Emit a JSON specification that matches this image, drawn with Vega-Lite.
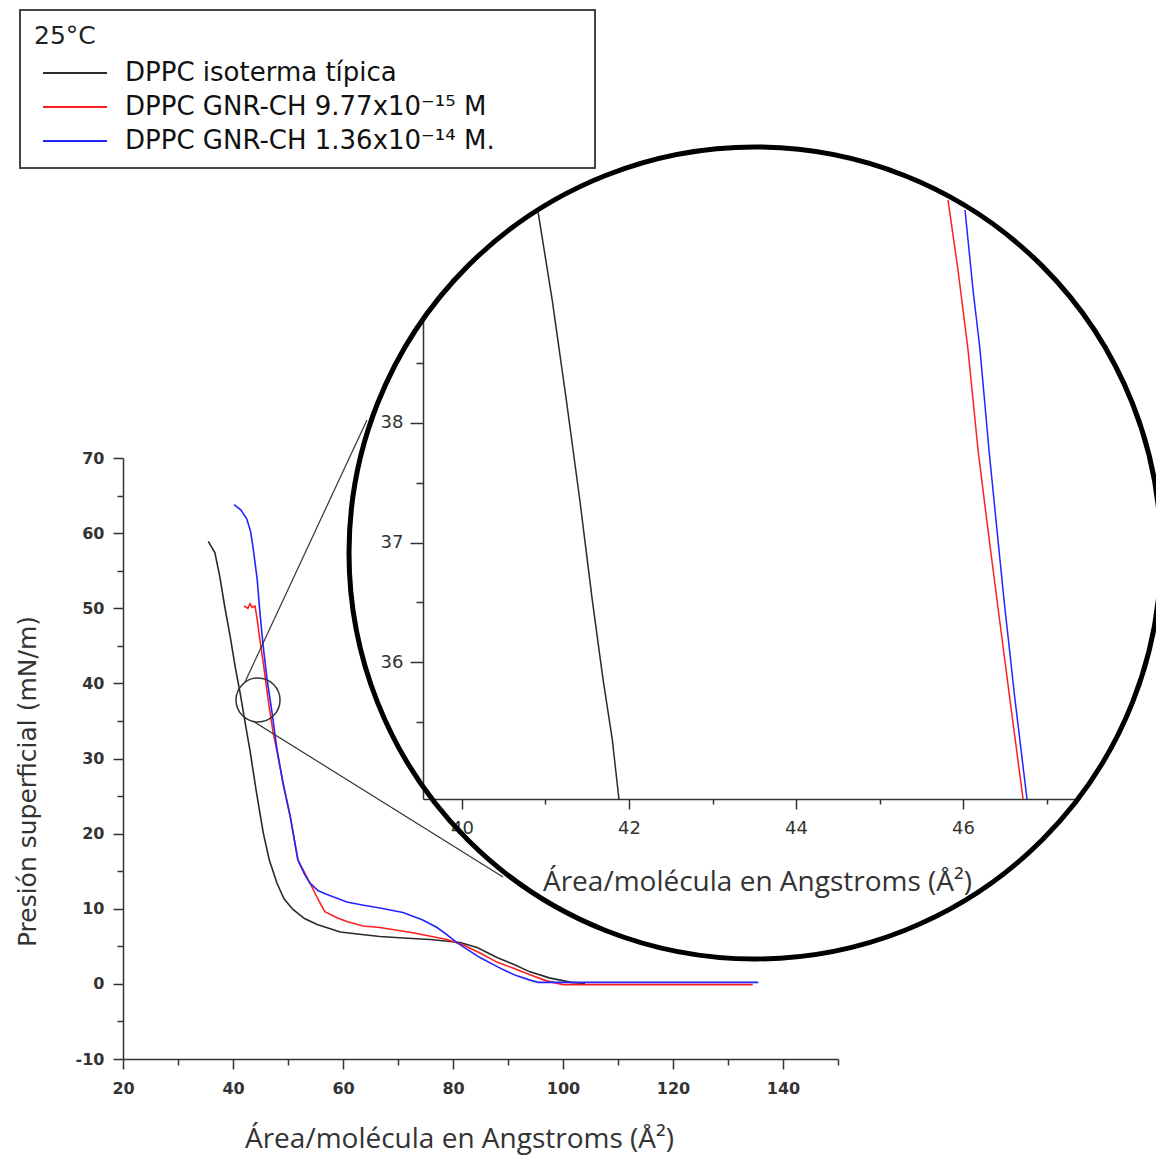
{
  "$schema": "https://vega.github.io/schema/vega-lite/v6.json",
  "autosize": "none",
  "width": 715,
  "height": 601,
  "padding": {"left": 123, "top": 458, "right": 318, "bottom": 97},
  "background": "white",
  "config": {
    "view": {"stroke": null},
    "axis": {"grid": false, "domainColor": "#333", "tickColor": "#333", "domainWidth": 1.5, "tickWidth": 1.5, "labelColor": "#333", "labelFlush": false, "labelOverlap": false}
  },
  "datasets": {
    "main": [
      {"serie": "DPPC isoterma típica", "area": 35.5, "presion": 58.9},
      {"serie": "DPPC isoterma típica", "area": 36.7, "presion": 57.4},
      {"serie": "DPPC isoterma típica", "area": 37.6, "presion": 54.2},
      {"serie": "DPPC isoterma típica", "area": 38.5, "presion": 50.2},
      {"serie": "DPPC isoterma típica", "area": 39.5, "presion": 46.2},
      {"serie": "DPPC isoterma típica", "area": 40.4, "presion": 42.2},
      {"serie": "DPPC isoterma típica", "area": 41.3, "presion": 38.7},
      {"serie": "DPPC isoterma típica", "area": 42.2, "presion": 34.8},
      {"serie": "DPPC isoterma típica", "area": 43.1, "presion": 31.0},
      {"serie": "DPPC isoterma típica", "area": 44.2, "presion": 25.8},
      {"serie": "DPPC isoterma típica", "area": 45.5, "presion": 20.1},
      {"serie": "DPPC isoterma típica", "area": 46.6, "presion": 16.5},
      {"serie": "DPPC isoterma típica", "area": 48.0, "presion": 13.4},
      {"serie": "DPPC isoterma típica", "area": 49.3, "presion": 11.3},
      {"serie": "DPPC isoterma típica", "area": 50.9, "presion": 9.9},
      {"serie": "DPPC isoterma típica", "area": 53.0, "presion": 8.7},
      {"serie": "DPPC isoterma típica", "area": 55.3, "presion": 7.9},
      {"serie": "DPPC isoterma típica", "area": 59.5, "presion": 6.9},
      {"serie": "DPPC isoterma típica", "area": 63.0, "presion": 6.6},
      {"serie": "DPPC isoterma típica", "area": 66.7, "presion": 6.3},
      {"serie": "DPPC isoterma típica", "area": 71.0, "presion": 6.1},
      {"serie": "DPPC isoterma típica", "area": 75.8, "presion": 5.9},
      {"serie": "DPPC isoterma típica", "area": 81.3, "presion": 5.5},
      {"serie": "DPPC isoterma típica", "area": 84.5, "presion": 4.8},
      {"serie": "DPPC isoterma típica", "area": 88.0, "presion": 3.5},
      {"serie": "DPPC isoterma típica", "area": 91.0, "presion": 2.6},
      {"serie": "DPPC isoterma típica", "area": 94.0, "presion": 1.6},
      {"serie": "DPPC isoterma típica", "area": 97.5, "presion": 0.8},
      {"serie": "DPPC isoterma típica", "area": 101.5, "presion": 0.2},
      {"serie": "DPPC isoterma típica", "area": 104.0, "presion": 0.05},
      {"serie": "DPPC  GNR-CH 9.77x10⁻¹⁵ M", "area": 42.0, "presion": 50.3},
      {"serie": "DPPC  GNR-CH 9.77x10⁻¹⁵ M", "area": 42.7, "presion": 50.0},
      {"serie": "DPPC  GNR-CH 9.77x10⁻¹⁵ M", "area": 43.1, "presion": 50.6},
      {"serie": "DPPC  GNR-CH 9.77x10⁻¹⁵ M", "area": 43.5, "presion": 50.1},
      {"serie": "DPPC  GNR-CH 9.77x10⁻¹⁵ M", "area": 44.0, "presion": 50.3},
      {"serie": "DPPC  GNR-CH 9.77x10⁻¹⁵ M", "area": 44.4, "presion": 48.5},
      {"serie": "DPPC  GNR-CH 9.77x10⁻¹⁵ M", "area": 44.9, "presion": 45.8},
      {"serie": "DPPC  GNR-CH 9.77x10⁻¹⁵ M", "area": 45.6, "presion": 42.2},
      {"serie": "DPPC  GNR-CH 9.77x10⁻¹⁵ M", "area": 46.4, "presion": 37.8},
      {"serie": "DPPC  GNR-CH 9.77x10⁻¹⁵ M", "area": 47.3, "presion": 33.4},
      {"serie": "DPPC  GNR-CH 9.77x10⁻¹⁵ M", "area": 48.0, "presion": 31.0},
      {"serie": "DPPC  GNR-CH 9.77x10⁻¹⁵ M", "area": 49.1, "presion": 26.7},
      {"serie": "DPPC  GNR-CH 9.77x10⁻¹⁵ M", "area": 50.4, "presion": 22.3},
      {"serie": "DPPC  GNR-CH 9.77x10⁻¹⁵ M", "area": 51.8, "presion": 16.5},
      {"serie": "DPPC  GNR-CH 9.77x10⁻¹⁵ M", "area": 54.0, "presion": 13.4},
      {"serie": "DPPC  GNR-CH 9.77x10⁻¹⁵ M", "area": 55.5, "presion": 11.2},
      {"serie": "DPPC  GNR-CH 9.77x10⁻¹⁵ M", "area": 56.7, "presion": 9.6},
      {"serie": "DPPC  GNR-CH 9.77x10⁻¹⁵ M", "area": 58.9, "presion": 8.8},
      {"serie": "DPPC  GNR-CH 9.77x10⁻¹⁵ M", "area": 60.7, "presion": 8.3},
      {"serie": "DPPC  GNR-CH 9.77x10⁻¹⁵ M", "area": 63.6, "presion": 7.7},
      {"serie": "DPPC  GNR-CH 9.77x10⁻¹⁵ M", "area": 66.7, "presion": 7.5},
      {"serie": "DPPC  GNR-CH 9.77x10⁻¹⁵ M", "area": 72.7, "presion": 6.8},
      {"serie": "DPPC  GNR-CH 9.77x10⁻¹⁵ M", "area": 78.9, "presion": 5.9},
      {"serie": "DPPC  GNR-CH 9.77x10⁻¹⁵ M", "area": 81.8, "presion": 5.2},
      {"serie": "DPPC  GNR-CH 9.77x10⁻¹⁵ M", "area": 84.9, "presion": 4.1},
      {"serie": "DPPC  GNR-CH 9.77x10⁻¹⁵ M", "area": 88.0, "presion": 2.9},
      {"serie": "DPPC  GNR-CH 9.77x10⁻¹⁵ M", "area": 90.9, "presion": 2.1},
      {"serie": "DPPC  GNR-CH 9.77x10⁻¹⁵ M", "area": 94.0, "presion": 1.2},
      {"serie": "DPPC  GNR-CH 9.77x10⁻¹⁵ M", "area": 97.0, "presion": 0.4},
      {"serie": "DPPC  GNR-CH 9.77x10⁻¹⁵ M", "area": 100.0, "presion": -0.1},
      {"serie": "DPPC  GNR-CH 9.77x10⁻¹⁵ M", "area": 134.5, "presion": -0.1},
      {"serie": "DPPC  GNR-CH 1.36x10⁻¹⁴ M.", "area": 40.2, "presion": 63.8},
      {"serie": "DPPC  GNR-CH 1.36x10⁻¹⁴ M.", "area": 41.4, "presion": 63.1},
      {"serie": "DPPC  GNR-CH 1.36x10⁻¹⁴ M.", "area": 42.5, "presion": 61.9},
      {"serie": "DPPC  GNR-CH 1.36x10⁻¹⁴ M.", "area": 43.2, "presion": 60.2},
      {"serie": "DPPC  GNR-CH 1.36x10⁻¹⁴ M.", "area": 43.7, "presion": 57.8},
      {"serie": "DPPC  GNR-CH 1.36x10⁻¹⁴ M.", "area": 44.4, "presion": 53.8},
      {"serie": "DPPC  GNR-CH 1.36x10⁻¹⁴ M.", "area": 44.9, "presion": 49.4},
      {"serie": "DPPC  GNR-CH 1.36x10⁻¹⁴ M.", "area": 45.5, "presion": 44.9},
      {"serie": "DPPC  GNR-CH 1.36x10⁻¹⁴ M.", "area": 46.2, "presion": 40.5},
      {"serie": "DPPC  GNR-CH 1.36x10⁻¹⁴ M.", "area": 47.1, "presion": 36.1},
      {"serie": "DPPC  GNR-CH 1.36x10⁻¹⁴ M.", "area": 48.0, "presion": 31.2},
      {"serie": "DPPC  GNR-CH 1.36x10⁻¹⁴ M.", "area": 49.1, "presion": 26.7},
      {"serie": "DPPC  GNR-CH 1.36x10⁻¹⁴ M.", "area": 50.4, "presion": 22.3},
      {"serie": "DPPC  GNR-CH 1.36x10⁻¹⁴ M.", "area": 51.8, "presion": 16.5},
      {"serie": "DPPC  GNR-CH 1.36x10⁻¹⁴ M.", "area": 53.0, "presion": 14.6},
      {"serie": "DPPC  GNR-CH 1.36x10⁻¹⁴ M.", "area": 54.0, "presion": 13.4},
      {"serie": "DPPC  GNR-CH 1.36x10⁻¹⁴ M.", "area": 55.5, "presion": 12.4},
      {"serie": "DPPC  GNR-CH 1.36x10⁻¹⁴ M.", "area": 57.1, "presion": 11.9},
      {"serie": "DPPC  GNR-CH 1.36x10⁻¹⁴ M.", "area": 60.7, "presion": 10.9},
      {"serie": "DPPC  GNR-CH 1.36x10⁻¹⁴ M.", "area": 63.5, "presion": 10.5},
      {"serie": "DPPC  GNR-CH 1.36x10⁻¹⁴ M.", "area": 66.7, "presion": 10.1},
      {"serie": "DPPC  GNR-CH 1.36x10⁻¹⁴ M.", "area": 70.9, "presion": 9.5},
      {"serie": "DPPC  GNR-CH 1.36x10⁻¹⁴ M.", "area": 74.5, "presion": 8.5},
      {"serie": "DPPC  GNR-CH 1.36x10⁻¹⁴ M.", "area": 77.1, "presion": 7.5},
      {"serie": "DPPC  GNR-CH 1.36x10⁻¹⁴ M.", "area": 79.0, "presion": 6.5},
      {"serie": "DPPC  GNR-CH 1.36x10⁻¹⁴ M.", "area": 80.7, "presion": 5.5},
      {"serie": "DPPC  GNR-CH 1.36x10⁻¹⁴ M.", "area": 82.8, "presion": 4.5},
      {"serie": "DPPC  GNR-CH 1.36x10⁻¹⁴ M.", "area": 84.9, "presion": 3.5},
      {"serie": "DPPC  GNR-CH 1.36x10⁻¹⁴ M.", "area": 87.0, "presion": 2.7},
      {"serie": "DPPC  GNR-CH 1.36x10⁻¹⁴ M.", "area": 89.1, "presion": 1.9},
      {"serie": "DPPC  GNR-CH 1.36x10⁻¹⁴ M.", "area": 91.5, "presion": 1.1},
      {"serie": "DPPC  GNR-CH 1.36x10⁻¹⁴ M.", "area": 94.0, "presion": 0.5},
      {"serie": "DPPC  GNR-CH 1.36x10⁻¹⁴ M.", "area": 95.5, "presion": 0.2},
      {"serie": "DPPC  GNR-CH 1.36x10⁻¹⁴ M.", "area": 135.5, "presion": 0.2}
    ],
    "inset_negro": [
      {"serie": "DPPC isoterma típica", "area": 40.91, "presion": 39.77},
      {"serie": "DPPC isoterma típica", "area": 41.08, "presion": 39.03},
      {"serie": "DPPC isoterma típica", "area": 41.25, "presion": 38.19},
      {"serie": "DPPC isoterma típica", "area": 41.41, "presion": 37.36},
      {"serie": "DPPC isoterma típica", "area": 41.56, "presion": 36.52},
      {"serie": "DPPC isoterma típica", "area": 41.69, "presion": 35.85},
      {"serie": "DPPC isoterma típica", "area": 41.80, "presion": 35.35},
      {"serie": "DPPC isoterma típica", "area": 41.88, "presion": 34.85}
    ],
    "inset_color": [
      {"serie": "DPPC  GNR-CH 9.77x10⁻¹⁵ M", "area": 45.82, "presion": 39.866},
      {"serie": "DPPC  GNR-CH 9.77x10⁻¹⁵ M", "area": 45.94, "presion": 39.28},
      {"serie": "DPPC  GNR-CH 9.77x10⁻¹⁵ M", "area": 46.06, "presion": 38.611},
      {"serie": "DPPC  GNR-CH 9.77x10⁻¹⁵ M", "area": 46.18, "presion": 37.774},
      {"serie": "DPPC  GNR-CH 9.77x10⁻¹⁵ M", "area": 46.299, "presion": 37.105},
      {"serie": "DPPC  GNR-CH 9.77x10⁻¹⁵ M", "area": 46.407, "presion": 36.519},
      {"serie": "DPPC  GNR-CH 9.77x10⁻¹⁵ M", "area": 46.563, "presion": 35.682},
      {"serie": "DPPC  GNR-CH 9.77x10⁻¹⁵ M", "area": 46.719, "presion": 34.854},
      {"serie": "DPPC  GNR-CH 1.36x10⁻¹⁴ M.", "area": 46.024, "presion": 39.782},
      {"serie": "DPPC  GNR-CH 1.36x10⁻¹⁴ M.", "area": 46.12, "presion": 39.113},
      {"serie": "DPPC  GNR-CH 1.36x10⁻¹⁴ M.", "area": 46.204, "presion": 38.611},
      {"serie": "DPPC  GNR-CH 1.36x10⁻¹⁴ M.", "area": 46.311, "presion": 37.774},
      {"serie": "DPPC  GNR-CH 1.36x10⁻¹⁴ M.", "area": 46.407, "presion": 37.105},
      {"serie": "DPPC  GNR-CH 1.36x10⁻¹⁴ M.", "area": 46.491, "presion": 36.519},
      {"serie": "DPPC  GNR-CH 1.36x10⁻¹⁴ M.", "area": 46.623, "presion": 35.682},
      {"serie": "DPPC  GNR-CH 1.36x10⁻¹⁴ M.", "area": 46.766, "presion": 34.854}
    ],
    "conectores": [
      {"x1": 42.18, "y1": 40.19, "x2": 64.36, "y2": 75.06},
      {"x1": 43.64, "y1": 34.98, "x2": 89.09, "y2": 14.22}
    ],
    "lupa_pequena": [{"area": 44.55, "presion": 37.79}],
    "lupa_grande": [{"area": 134.91, "presion": 57.36}]
  },
  "resolve": {
    "scale": {"x": "independent", "y": "independent"},
    "axis": {"x": "independent", "y": "independent"}
  },
  "layer": [
    {
      "data": {"name": "main"},
      "mark": {"type": "line", "strokeWidth": 1.6},
      "encoding": {
        "x": {
          "field": "area", "type": "quantitative",
          "scale": {"domain": [20, 150], "nice": false, "zero": false},
          "axis": {
            "orient": "bottom", "values": [20, 40, 60, 80, 100, 120, 140],
            "tickSize": 10, "labelPadding": 11,
            "labelFont": "DejaVu Sans", "labelFontSize": 16, "labelFontWeight": "bold",
            "title": "Área/molécula en Angstroms (Å²)",
            "titleFont": "Open Sans", "titleFontSize": 28, "titleFontWeight": "normal", "titleColor": "#333",
            "titleX": 336, "titleY": 88, "titleBaseline": "alphabetic", "titleAlign": "center", "titleAnchor": "middle"
          }
        },
        "y": {
          "field": "presion", "type": "quantitative",
          "scale": {"domain": [-10, 70], "nice": false, "zero": false},
          "axis": {
            "orient": "left", "values": [-10, 0, 10, 20, 30, 40, 50, 60, 70],
            "labelExpr": "'' + datum.value",
            "tickSize": 10, "labelPadding": 9,
            "labelFont": "DejaVu Sans", "labelFontSize": 16, "labelFontWeight": "bold",
            "title": "Presión superficial (mN/m)",
            "titleFont": "DejaVu Sans", "titleFontSize": 25, "titleFontWeight": "normal", "titleColor": "#333",
            "titleX": -96, "titleY": 323, "titleAngle": -90, "titleBaseline": "middle", "titleAlign": "center", "titleAnchor": "middle"
          }
        },
        "color": {
          "field": "serie", "type": "nominal",
          "scale": {
            "domain": ["DPPC isoterma típica", "DPPC  GNR-CH 9.77x10⁻¹⁵ M", "DPPC  GNR-CH 1.36x10⁻¹⁴ M."],
            "range": ["#2a2a2a", "#ff1f1f", "#2323ff"]
          },
          "legend": {
            "orient": "none", "legendX": -103, "legendY": -448,
            "title": "25°C", "titleFont": "DejaVu Sans", "titleFontSize": 25, "titleFontWeight": "normal", "titleColor": "#222", "titlePadding": 10,
            "labelFont": "DejaVu Sans", "labelFontSize": 26, "labelColor": "#111", "labelLimit": 0, "labelOffset": 36,
            "labelExpr": "datum.label + '\u2003\u2003\u2003\u200b'",
            "symbolType": "M-2.5,0H2.5", "symbolSize": 655, "symbolStrokeWidth": 2, "symbolOffset": 27,
            "rowPadding": 7, "padding": 14, "strokeColor": "#444",
            "encode": {"legend": {"update": {"strokeWidth": {"value": 2}}}}
          }
        }
      }
    },
    {
      "data": {"name": "conectores"},
      "mark": {"type": "rule", "stroke": "#333", "strokeWidth": 1.2},
      "encoding": {
        "x": {
          "field": "x1", "type": "quantitative",
          "scale": {"domain": [20, 150], "nice": false, "zero": false},
          "axis": {"orient": "bottom", "values": [30, 50, 70, 90, 110, 130, 150], "tickSize": 6, "labels": false, "domain": false, "title": null}
        },
        "y": {
          "field": "y1", "type": "quantitative",
          "scale": {"domain": [-10, 70], "nice": false, "zero": false},
          "axis": {"orient": "left", "values": [-5, 5, 15, 25, 35, 45, 55, 65], "tickSize": 6, "labels": false, "domain": false, "title": null}
        },
        "x2": {"field": "x2"},
        "y2": {"field": "y2"}
      }
    },
    {
      "data": {"name": "lupa_pequena"},
      "mark": {"type": "point", "shape": "circle", "filled": false, "size": 1936, "stroke": "#333", "strokeWidth": 1.5, "opacity": 1},
      "encoding": {
        "x": {"field": "area", "type": "quantitative", "scale": {"domain": [20, 150], "nice": false, "zero": false}, "axis": null},
        "y": {"field": "presion", "type": "quantitative", "scale": {"domain": [-10, 70], "nice": false, "zero": false}, "axis": null}
      }
    },
    {
      "data": {"name": "lupa_grande"},
      "mark": {"type": "point", "shape": "circle", "filled": false, "size": 659344, "stroke": "#000", "strokeWidth": 5, "opacity": 1},
      "encoding": {
        "x": {"field": "area", "type": "quantitative", "scale": {"domain": [20, 150], "nice": false, "zero": false}, "axis": null},
        "y": {"field": "presion", "type": "quantitative", "scale": {"domain": [-10, 70], "nice": false, "zero": false}, "axis": null}
      }
    },
    {
      "data": {"name": "inset_negro"},
      "mark": {"type": "line", "strokeWidth": 1.5},
      "encoding": {
        "x": {
          "field": "area", "type": "quantitative",
          "scale": {"domain": [39.533, 47.401], "range": [300, 957], "nice": false, "zero": false},
          "axis": {
            "orient": "bottom", "offset": -260, "values": [40, 42, 44, 46],
            "tickSize": 10, "labelPadding": 10,
            "labelFont": "DejaVu Sans", "labelFontSize": 18,
            "title": "Área/molécula en Angstroms (Å²)",
            "titleFont": "Open Sans", "titleFontSize": 28, "titleFontWeight": "normal", "titleColor": "#333",
            "titleX": 634, "titleY": 91, "titleBaseline": "alphabetic", "titleAlign": "center", "titleAnchor": "middle"
          }
        },
        "y": {
          "field": "presion", "type": "quantitative",
          "scale": {"domain": [34.854, 38.87], "range": [341, -139], "nice": false, "zero": false},
          "axis": {
            "orient": "left", "offset": -300, "values": [36, 37, 38],
            "tickSize": 13, "labelPadding": 7,
            "labelFont": "DejaVu Sans", "labelFontSize": 18,
            "title": null
          }
        },
        "color": {"field": "serie", "type": "nominal"}
      }
    },
    {
      "data": {"name": "inset_color"},
      "mark": {"type": "line", "strokeWidth": 1.5},
      "encoding": {
        "x": {
          "field": "area", "type": "quantitative",
          "scale": {"domain": [39.533, 47.401], "range": [300, 957], "nice": false, "zero": false},
          "axis": {"orient": "bottom", "offset": -260, "values": [41, 43, 45, 47], "tickSize": 5, "labels": false, "domain": false, "title": null}
        },
        "y": {
          "field": "presion", "type": "quantitative",
          "scale": {"domain": [34.854, 38.87], "range": [341, -139], "nice": false, "zero": false},
          "axis": {"orient": "left", "offset": -300, "values": [35.5, 36.5, 37.5, 38.5], "tickSize": 7, "labels": false, "domain": false, "title": null}
        },
        "color": {"field": "serie", "type": "nominal"}
      }
    }
  ]
}
